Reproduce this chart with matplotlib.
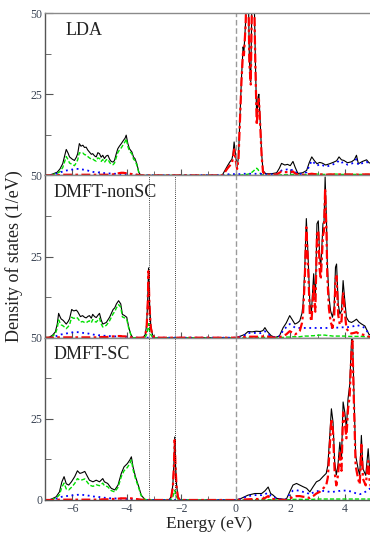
import matplotlib
matplotlib.use("Agg")
import matplotlib.pyplot as plt
from matplotlib.ticker import MultipleLocator

plt.rcParams['font.family'] = ['Liberation Serif', 'DejaVu Serif']

# ---- LDA panel ----
lda_e = [-7.0, -6.85, -6.7, -6.55, -6.45, -6.35, -6.28, -6.22, -6.15, -6.1,
         -6.0, -5.92, -5.85, -5.8, -5.74, -5.68, -5.61, -5.55, -5.49, -5.43,
         -5.37, -5.3, -5.25, -5.18, -5.12, -5.06, -5.0, -4.94, -4.88, -4.82,
         -4.75, -4.69, -4.63, -4.57, -4.5, -4.45, -4.39, -4.33, -4.27, -4.2,
         -4.12, -4.06, -4.02, -3.96, -3.9, -3.81, -3.75, -3.7, -3.63, -3.55,
         -3.48, -0.5, -0.4, -0.3, -0.22, -0.14, -0.1, -0.06, 0.0, 0.05,
         0.1, 0.15, 0.21, 0.27, 0.3, 0.36, 0.4, 0.46, 0.5, 0.55,
         0.6, 0.67, 0.72, 0.77, 0.82, 0.85, 0.9, 0.95, 1.0, 1.1,
         1.3, 1.5, 1.6, 1.68, 1.8, 1.9, 2.0, 2.1, 2.18, 2.28,
         2.45, 2.6, 2.7, 2.79, 2.88, 2.98, 3.08, 3.17, 3.3, 3.45,
         3.6, 3.7, 3.79, 3.88, 3.97, 4.1, 4.25, 4.35, 4.43, 4.5,
         4.65, 4.8, 4.9, 5.0]
lda_total = [0, 0, 0.5, 1.0, 2.0, 3.6, 6.0, 8.0, 6.8, 5.7,
             5.0, 4.6, 5.6, 6.7, 9.8, 9.0, 9.3, 8.6, 8.7, 7.8,
             7.2, 6.5, 6.7, 6.0, 5.7, 7.0, 6.7, 5.6, 6.2, 5.2,
             6.0, 6.2, 5.0, 4.3, 4.1, 4.6, 6.5, 8.2, 9.0, 9.8,
             10.8, 11.5, 12.4, 9.8, 8.2, 7.2, 5.6, 5.2, 3.6, 0.8,
             0, 0, 1.5, 3.0, 4.1, 5.0, 6.7, 10.3, 5.7, 2.6,
             5.7, 17.0, 30.0, 39.6, 38.0, 47.0, 58, 58, 35.5, 28.8,
             58, 58, 35.5, 17.0, 24.2, 25.0, 16.0, 6.7, 1.5, 0.5,
             0.5, 0.8, 2.2, 3.7, 3.2, 3.4, 3.0, 4.3, 2.5, 0.6,
             0.8, 1.5, 4.0, 5.7, 4.6, 3.6, 4.0, 3.8, 3.2, 3.6,
             4.1, 4.5, 5.7, 4.8, 4.6, 3.9, 4.2, 4.8, 6.2, 3.6,
             4.3, 4.8, 3.8, 4.1]
lda_green = [0, 0, 0.3, 0.6, 1.2, 2.4, 4.2, 5.8, 4.8, 3.8,
             3.4, 3.0, 3.9, 4.8, 7.0, 6.8, 6.9, 6.4, 6.3, 5.8,
             5.4, 5.0, 5.1, 4.6, 4.4, 5.4, 5.2, 4.3, 4.9, 4.0,
             4.8, 5.0, 4.0, 3.4, 3.3, 3.8, 5.4, 7.0, 7.8, 8.5,
             9.6, 10.4, 11.3, 8.9, 7.5, 6.6, 5.0, 4.6, 3.2, 0.6,
             0, 0, 0.1, 0.1, 0.1, 0.1, 0.1, 0.1, 0.1, 0.1,
             0.1, 0.1, 0.1, 0.2, 0.2, 0.3, 0.3, 0.4, 0.5, 0.7,
             1.0, 1.5, 2.0, 2.2, 1.8, 1.2, 0.6, 0.3, 0.1, 0,
             0, 0, 0.1, 0.2, 0.2, 0.2, 0.2, 0.3, 0.2, 0.1,
             0.2, 0.3, 0.4, 0.5, 0.4, 0.4, 0.4, 0.3, 0.3, 0.3,
             0.4, 0.4, 0.4, 0.3, 0.3, 0.3, 0.3, 0.3, 0.3, 0.3,
             0.3, 0.3, 0.3, 0.3]
lda_blue = [0, 0, 0.3, 0.6, 0.9, 1.2, 1.4, 1.5, 1.6, 1.7,
            1.8, 1.9, 2.0, 2.0, 2.0, 1.9, 1.8, 1.7, 1.6, 1.5,
            1.3, 1.2, 1.1, 1.0, 1.0, 0.9, 0.9, 0.8, 0.8, 0.7,
            0.7, 0.6, 0.6, 0.6, 0.5, 0.5, 0.5, 0.5, 0.5, 0.4,
            0.4, 0.4, 0.4, 0.3, 0.3, 0.3, 0.2, 0.2, 0.2, 0.1,
            0, 0.1, 0.2, 0.3, 0.4, 0.4, 0.4, 0.4, 0.4, 0.4,
            0.4, 0.4, 0.4, 0.5, 0.5, 0.5, 0.5, 0.5, 0.5, 0.5,
            0.5, 0.5, 0.5, 0.5, 0.5, 0.5, 0.5, 0.4, 0.3, 0.3,
            0.3, 0.4, 1.0, 1.5, 1.8, 1.8, 1.5, 1.8, 1.2, 0.4,
            0.5, 1.0, 3.0, 4.5, 3.8, 3.0, 3.4, 3.2, 2.7, 3.0,
            3.5, 3.8, 4.6, 4.0, 4.0, 3.3, 3.6, 4.2, 5.0, 3.2,
            3.8, 4.2, 3.4, 3.6]
lda_red = [0, 0, 0, 0.1, 0.1, 0.2, 0.2, 0.2, 0.2, 0.2,
           0.2, 0.2, 0.2, 0.2, 0.2, 0.2, 0.2, 0.2, 0.2, 0.2,
           0.2, 0.2, 0.2, 0.2, 0.2, 0.2, 0.2, 0.2, 0.2, 0.2,
           0.2, 0.2, 0.3, 0.3, 0.3, 0.4, 0.5, 0.6, 0.7, 0.8,
           0.8, 0.7, 0.7, 0.6, 0.5, 0.4, 0.3, 0.3, 0.2, 0.1,
           0, 0, 1.0, 2.2, 3.0, 3.8, 5.5, 8.0, 4.5, 2.0,
           5.0, 16.0, 29.0, 38.5, 37.0, 46.0, 57, 57, 34.5, 28.0,
           57, 57, 34.0, 15.5, 22.5, 23.5, 15.0, 6.0, 1.0, 0.2,
           0.2, 0.3, 0.8, 1.2, 1.0, 1.0, 0.9, 1.2, 0.6, 0.2,
           0.2, 0.3, 0.4, 0.5, 0.4, 0.3, 0.3, 0.3, 0.2, 0.3,
           0.3, 0.3, 0.3, 0.3, 0.3, 0.3, 0.3, 0.3, 0.3, 0.2,
           0.3, 0.3, 0.3, 0.3]

# ---- DMFT non self-consistent panel ----
nsc_e = [-7.0, -6.85, -6.72, -6.62, -6.55, -6.5, -6.45, -6.41, -6.33, -6.22,
         -6.15, -6.1, -6.02, -5.96, -5.92, -5.85, -5.8, -5.7, -5.62, -5.55,
         -5.49, -5.42, -5.37, -5.3, -5.25, -5.18, -5.12, -5.05, -5.0, -4.94,
         -4.88, -4.8, -4.75, -4.63, -4.5, -4.44, -4.38, -4.3, -4.22, -4.16,
         -4.08, -4.0, -3.93, -3.85, -3.78, -3.4, -3.32, -3.27, -3.23, -3.2,
         -3.17, -3.12, -3.06, -2.98, 0.0, 0.15, 0.33, 0.45, 0.6, 0.75,
         0.9, 1.0, 1.07, 1.15, 1.3, 1.45, 1.6, 1.74, 1.85, 1.98,
         2.07, 2.17, 2.27, 2.35, 2.43, 2.47, 2.53, 2.59, 2.65, 2.72,
         2.78, 2.86, 2.92, 2.98, 3.03, 3.08, 3.12, 3.16, 3.2, 3.24,
         3.28, 3.33, 3.36, 3.42, 3.48, 3.55, 3.61, 3.66, 3.7, 3.76,
         3.82, 3.88, 3.94, 3.99, 4.06, 4.15, 4.25, 4.35, 4.43, 4.52,
         4.62, 4.74, 4.82, 4.89, 5.0]
nsc_total = [0, 0.1, 0.8, 1.8, 4.2, 7.5, 6.5, 5.8, 5.3, 4.2,
             5.0, 5.8, 8.7, 8.3, 8.3, 8.5, 8.0, 6.5, 6.8, 6.3,
             6.1, 6.6, 6.8, 6.0, 7.2, 6.5, 6.2, 7.0, 7.5, 5.5,
             4.2, 4.5, 4.7, 6.3, 8.7, 9.2, 10.4, 11.4, 10.4, 7.2,
             6.8, 6.3, 3.3, 1.0, 0, 0, 1.0, 4.0, 12.0, 21.5,
             12.0, 4.0, 1.0, 0, 0, 0.4, 1.0, 1.9, 1.8, 2.0,
             1.9, 2.2, 3.1, 2.0, 0.6, 0.1, 0.5, 3.1, 4.5, 6.8,
             5.6, 4.2, 4.6, 5.2, 7.5, 10.4, 20.6, 36.7, 25.9, 10.4,
             8.3, 19.7, 11.4, 35.1, 36.0, 24.8, 21.7, 28.0, 35.1, 36.0,
             49.5, 36.0, 22.7, 12.6, 8.3, 6.3, 9.4, 21.7, 22.7, 10.4,
             7.3, 8.3, 17.6, 12.6, 6.3, 5.0, 4.7, 5.2, 5.7, 4.8,
             4.2, 3.6, 2.2, 1.0, 0.8]
nsc_green = [0, 0.1, 0.5, 1.2, 3.0, 5.5, 4.6, 4.0, 3.6, 2.8,
             3.4, 4.0, 6.3, 6.0, 6.0, 6.3, 6.0, 4.8, 5.0, 4.7,
             4.6, 5.0, 5.2, 4.6, 5.6, 5.0, 4.8, 5.5, 6.0, 4.3,
             3.3, 3.6, 3.8, 5.2, 7.4, 8.0, 9.2, 10.2, 9.4, 6.4,
             6.1, 5.7, 3.0, 0.9, 0, 0, 0.2, 1.0, 2.5, 4.3,
             2.5, 1.0, 0.2, 0, 0, 0, 0, 0.1, 0.1, 0.1,
             0.1, 0.1, 0.1, 0.1, 0, 0, 0, 0.1, 0.2, 0.2,
             0.3, 0.3, 0.3, 0.3, 0.4, 0.4, 0.5, 0.5, 0.5, 0.5,
             0.6, 0.6, 0.7, 0.7, 0.8, 0.8, 0.8, 0.8, 0.8, 0.8,
             0.8, 0.7, 0.7, 0.6, 0.6, 0.5, 0.5, 0.5, 0.5, 0.5,
             0.5, 0.5, 0.5, 0.5, 0.5, 0.4, 0.4, 0.4, 0.4, 0.4,
             0.4, 0.3, 0.3, 0.2, 0.2]
nsc_blue = [0, 0, 0.2, 0.4, 0.6, 0.8, 0.9, 1.0, 1.1, 1.3,
            1.4, 1.5, 1.6, 1.7, 1.7, 1.7, 1.7, 1.6, 1.5, 1.4,
            1.4, 1.3, 1.2, 1.1, 1.0, 0.9, 0.8, 0.8, 0.7, 0.7,
            0.6, 0.6, 0.5, 0.5, 0.5, 0.4, 0.4, 0.4, 0.4, 0.3,
            0.3, 0.3, 0.2, 0.1, 0, 0, 0, 0, 0, 0,
            0, 0, 0, 0, 0, 0.3, 0.8, 1.5, 1.4, 1.5,
            1.4, 1.6, 2.0, 1.3, 0.4, 0.1, 0.4, 2.2, 3.2, 4.2,
            3.8, 3.1, 3.0, 3.0, 3.0, 3.0, 3.0, 3.0, 3.0, 3.0,
            3.0, 3.0, 3.0, 3.0, 3.0, 3.0, 3.0, 3.0, 3.0, 3.0,
            3.0, 3.0, 3.0, 3.0, 3.0, 3.1, 3.1, 3.1, 3.1, 3.1,
            3.1, 3.2, 3.2, 3.2, 3.2, 3.3, 3.4, 3.6, 3.9, 3.7,
            3.5, 3.0, 2.0, 1.0, 0.8]
nsc_red = [0, 0, 0, 0.1, 0.1, 0.1, 0.1, 0.1, 0.1, 0.1,
           0.1, 0.1, 0.1, 0.1, 0.1, 0.1, 0.1, 0.1, 0.1, 0.1,
           0.1, 0.1, 0.1, 0.1, 0.1, 0.1, 0.1, 0.1, 0.1, 0.2,
           0.2, 0.2, 0.2, 0.3, 0.4, 0.4, 0.5, 0.5, 0.5, 0.4,
           0.4, 0.3, 0.2, 0.1, 0, 0, 0.8, 3.3, 10.5, 20.5,
           10.5, 3.2, 0.8, 0, 0, 0.1, 0.2, 0.3, 0.3, 0.3,
           0.3, 0.4, 0.6, 0.4, 0.1, 0, 0.1, 0.6, 1.0, 2.0,
           1.6, 1.0, 1.5, 2.1, 4.5, 7.5, 17.5, 34.0, 23.0, 7.0,
           5.0, 16.5, 8.0, 32.0, 33.0, 21.0, 18.0, 24.5, 31.5, 33.0,
           46.0, 32.5, 19.0, 9.0, 5.0, 3.0, 6.0, 18.0, 19.0, 7.0,
           4.0, 5.0, 14.0, 9.0, 3.0, 1.6, 1.3, 1.5, 1.7, 1.2,
           1.0, 0.8, 0.5, 0.3, 0.2]

# ---- DMFT self-consistent panel ----
sc_e = [-7.0, -6.85, -6.78, -6.59, -6.47, -6.38, -6.3, -6.22, -6.13, -6.03,
        -5.91, -5.81, -5.72, -5.64, -5.54, -5.44, -5.37, -5.24, -5.12, -5.0,
        -4.88, -4.82, -4.7, -4.57, -4.44, -4.32, -4.2, -4.1, -3.98, -3.89,
        -3.83, -3.77, -3.68, -3.56, -3.47, -3.34, -3.2, -2.45, -2.37, -2.31,
        -2.27, -2.24, -2.21, -2.17, -2.12, -2.05, 0.0, 0.2, 0.45, 0.7,
        0.95, 1.07, 1.19, 1.28, 1.37, 1.5, 1.8, 1.86, 1.98, 2.1,
        2.23, 2.35, 2.47, 2.6, 2.72, 2.84, 2.96, 3.08, 3.2, 3.32,
        3.38, 3.45, 3.51, 3.57, 3.63, 3.69, 3.75, 3.82, 3.88, 3.94,
        4.0, 4.06, 4.12, 4.18, 4.25, 4.28, 4.33, 4.4, 4.49, 4.55,
        4.61, 4.67, 4.77, 4.86, 4.92, 5.0]
sc_total = [0, 0.1, 0.2, 1.0, 2.5, 5.6, 7.2, 5.0, 4.6, 5.6,
            7.2, 9.0, 8.2, 8.4, 8.8, 7.2, 6.1, 5.6, 6.1, 5.6,
            6.6, 5.6, 5.1, 3.6, 3.1, 4.6, 8.2, 10.2, 11.2, 12.3,
            13.3, 10.2, 7.2, 4.1, 1.5, 0.2, 0, 0, 1.0, 4.5,
            11.0, 19.4, 11.0, 4.5, 1.0, 0, 0, 0.5, 1.5, 2.0,
            2.0, 2.8, 4.0, 2.0, 1.5, 0.5, 0.2, 0.3, 2.5, 4.6,
            5.1, 4.6, 4.1, 3.6, 2.5, 4.1, 5.6, 6.1, 7.2, 8.2,
            10.7, 19.9, 28.1, 24.0, 11.8, 7.7, 10.7, 17.8, 12.7, 30.2,
            27.1, 22.0, 31.2, 35.3, 49.5, 52.0, 35.3, 13.7, 9.6, 7.6,
            19.9, 9.6, 7.6, 15.8, 8.6, 7.0]
sc_green = [0, 0.05, 0.1, 0.6, 1.6, 4.0, 5.2, 3.4, 3.1, 3.9,
            5.1, 6.6, 6.1, 6.2, 6.5, 5.4, 4.6, 4.2, 4.7, 4.4,
            5.2, 4.4, 4.1, 2.9, 2.5, 3.9, 7.2, 9.0, 10.0, 11.2,
            12.3, 9.4, 6.6, 3.7, 1.3, 0.2, 0, 0, 0.2, 1.0,
            2.0, 3.0, 2.0, 1.0, 0.2, 0, 0, 0, 0.1, 0.1,
            0.1, 0.1, 0.1, 0.1, 0.1, 0, 0, 0.05, 0.1, 0.2,
            0.2, 0.2, 0.2, 0.2, 0.2, 0.2, 0.3, 0.3, 0.3, 0.3,
            0.3, 0.3, 0.3, 0.3, 0.3, 0.3, 0.3, 0.3, 0.3, 0.3,
            0.3, 0.3, 0.3, 0.3, 0.3, 0.3, 0.3, 0.3, 0.3, 0.3,
            0.3, 0.3, 0.3, 0.3, 0.3, 0.3]
sc_blue = [0, 0, 0.1, 0.4, 0.8, 1.0, 1.1, 1.2, 1.3, 1.4,
           1.5, 1.6, 1.6, 1.6, 1.5, 1.4, 1.3, 1.1, 1.0, 0.9,
           0.8, 0.7, 0.6, 0.5, 0.5, 0.4, 0.4, 0.4, 0.3, 0.3,
           0.3, 0.2, 0.2, 0.1, 0.1, 0, 0, 0, 0, 0,
           0, 0, 0, 0, 0, 0, 0, 0.4, 1.2, 1.5,
           1.5, 1.8, 2.2, 1.4, 1.1, 0.4, 0.2, 0.3, 1.8, 2.9,
           3.0, 2.8, 2.5, 2.3, 1.7, 2.3, 2.7, 2.8, 2.8, 2.7,
           2.6, 2.5, 2.5, 2.5, 2.6, 2.7, 2.8, 2.8, 2.9, 2.9,
           2.9, 2.9, 2.8, 2.7, 2.6, 2.5, 2.3, 2.1, 1.9, 1.8,
           1.9, 2.1, 2.6, 3.2, 3.5, 3.3]
sc_red = [0, 0, 0, 0, 0.1, 0.1, 0.1, 0.1, 0.1, 0.1,
          0.1, 0.1, 0.1, 0.1, 0.1, 0.1, 0.1, 0.1, 0.1, 0.1,
          0.2, 0.2, 0.2, 0.3, 0.3, 0.4, 0.5, 0.5, 0.5, 0.5,
          0.5, 0.4, 0.3, 0.2, 0.1, 0, 0, 0, 0.8, 3.8,
          10.0, 18.5, 10.0, 3.8, 0.8, 0, 0, 0.1, 0.2, 0.3,
          0.3, 0.6, 1.2, 0.4, 0.3, 0.1, 0, 0, 0.4, 1.0,
          1.2, 1.2, 1.0, 0.9, 0.6, 1.2, 2.0, 2.5, 3.5, 4.5,
          7.0, 16.5, 25.0, 21.0, 8.5, 4.5, 7.5, 14.5, 9.0, 27.0,
          24.0, 19.0, 28.0, 32.0, 46.0, 49.0, 32.0, 10.5, 6.5, 4.8,
          17.0, 6.5, 4.5, 12.0, 5.0, 3.5]

panel_names = ["LDA", "DMFT-nonSC", "DMFT-SC"]
panel_label_x = [0.062, 0.025, 0.025]
fermi_level = 0.0
peak_marks = [-3.2, -2.22]   # dotted guide lines in the DMFT panels

panels = [
    (lda_e, lda_total, lda_green, lda_blue, lda_red),
    (nsc_e, nsc_total, nsc_green, nsc_blue, nsc_red),
    (sc_e, sc_total, sc_green, sc_blue, sc_red),
]

tick_col = '#3a4454'
spine_col = '#555555'

fig = plt.figure(figsize=(3.7, 5.33), dpi=100)
left, width = 45 / 370, 327 / 370
bottom0, h = 33 / 533, 162.3 / 533

for i, (e, tot, gr, bl, rd) in enumerate(panels):
    ax = fig.add_axes([left, bottom0 + (2 - i) * h, width, h])
    ax.plot(e, tot, color='black', lw=0.8)
    ax.plot(e, gr, color='#00e000', lw=1.0, ls=(0, (3, 1.5)))
    ax.plot(e, bl, color='#0000ff', lw=1.3, ls=(0, (1, 2)))
    ax.plot(e, rd, color='red', lw=1.6, ls=(0, (4, 1.5, 1.2, 1.5)))
    ax.axvline(fermi_level, color='#9a9a9a', lw=1.0, ls=(0, (4, 2)))
    if i > 0:
        for m in peak_marks:
            ax.axvline(m, color='black', lw=0.6, ls=(0, (1, 1.5)))
    ax.set_xlim(-7, 5)
    ax.set_ylim(0, 50)
    ax.set_yticks([0, 25, 50])
    ax.yaxis.set_minor_locator(MultipleLocator(12.5))
    ax.set_xticks([-6, -4, -2, 0, 2, 4])
    ax.xaxis.set_minor_locator(MultipleLocator(1))
    ax.tick_params(which='both', direction='in', top=False, right=False,
                   colors=spine_col, labelcolor=tick_col, labelsize=8.5)
    ax.tick_params(axis='y', which='major', length=6, pad=2)
    ax.tick_params(axis='y', which='minor', length=4)
    ax.tick_params(axis='x', which='major', length=4, pad=2)
    ax.tick_params(axis='x', which='minor', length=3)
    for s in ax.spines.values():
        s.set_color(spine_col)
        s.set_linewidth(1.0)
    ax.spines['top'].set_color('#8a8a8a')
    if i < 2:
        ax.set_yticklabels(['', '25', '50'])
        ax.tick_params(axis='x', labelbottom=False)
    else:
        ax.set_yticklabels(['0', '25', '50'])
    ax.text(panel_label_x[i], 0.895, panel_names[i], transform=ax.transAxes,
            fontsize=13, va='center', ha='left', color='#222222')

fig.text(0.038, 0.52, "Density of states (1/eV)", rotation=90,
         ha='center', va='center', fontsize=13, color='#222222')
fig.text(0.565, 0.002, "Energy (eV)", ha='center', va='bottom',
         fontsize=12.5, color='#222222')

fig.savefig("out.png", dpi=100)
